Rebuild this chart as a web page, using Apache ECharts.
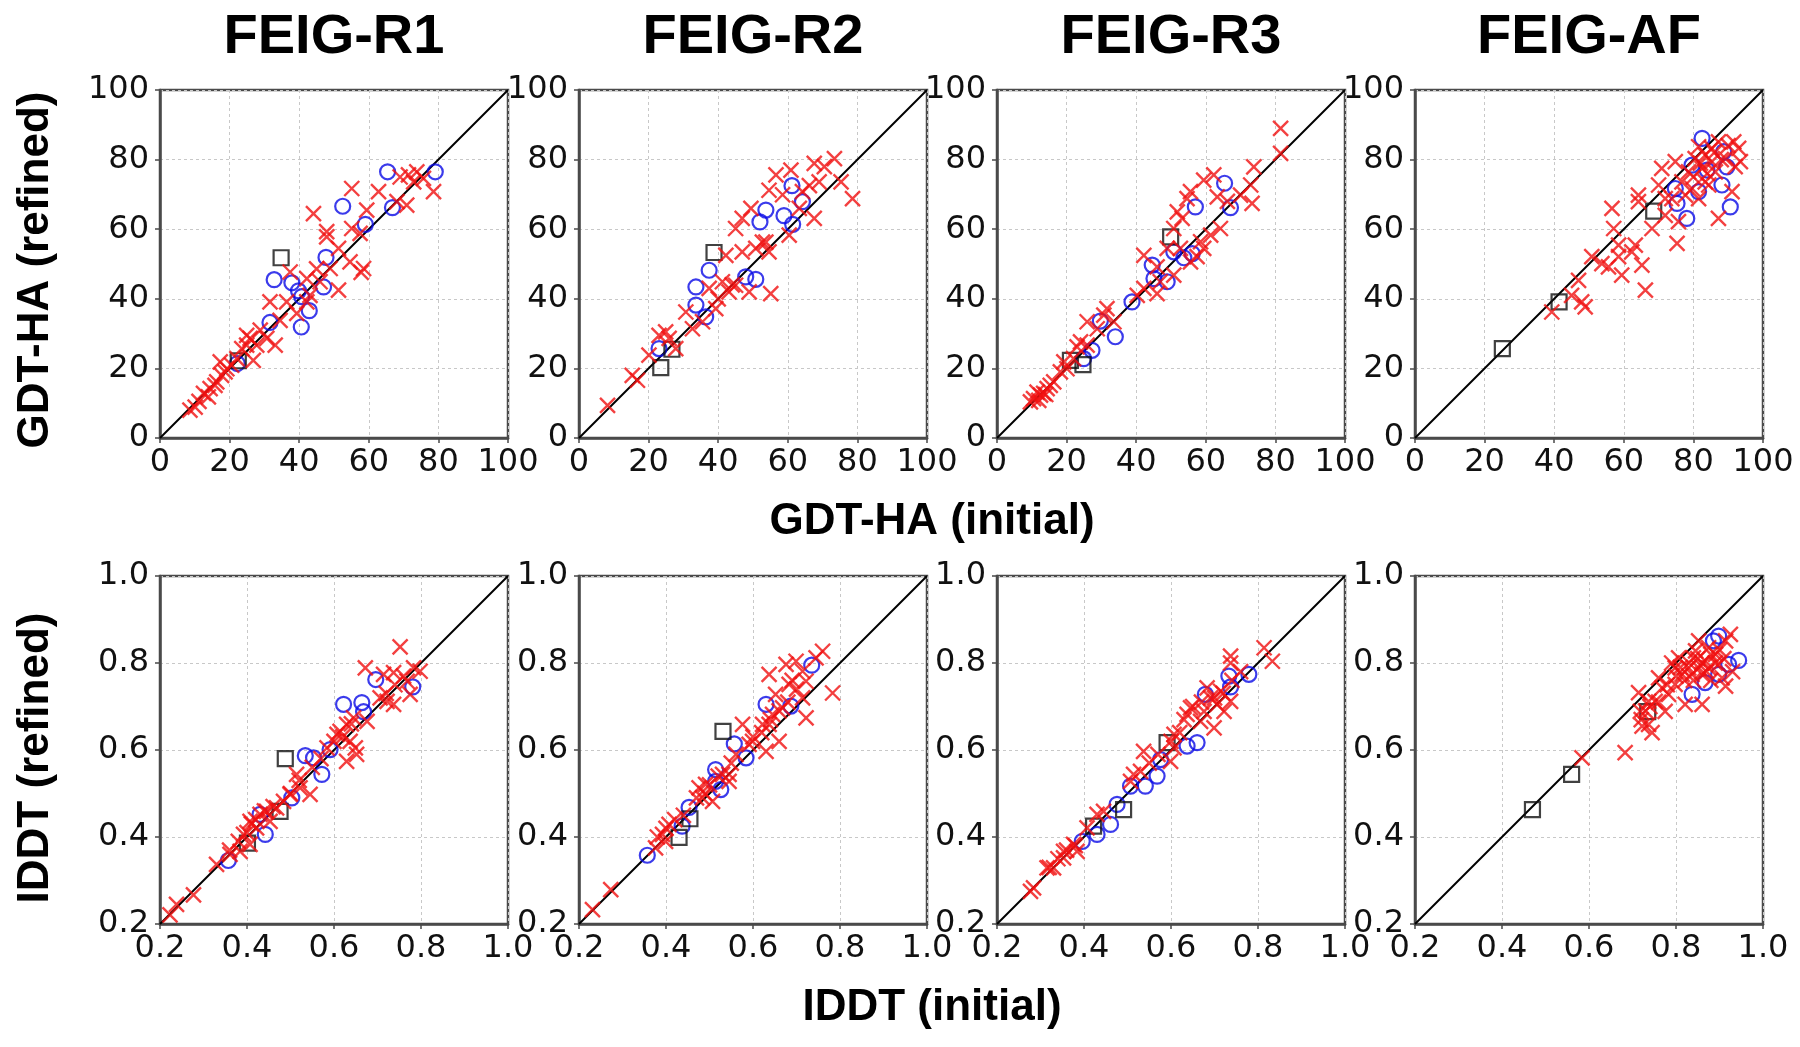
<!DOCTYPE html>
<html>
<head>
<meta charset="utf-8">
<script src="https://cdn.jsdelivr.net/npm/echarts@6/dist/echarts.min.js"></script>
<style>
  body { margin: 0; background: #fff; }
  #chart { width: 1800px; height: 1047px; }
</style>
</head>
<body>
<div id="chart"></div>
<script>
// panel titles and axis ticks
const panelTitles = ['FEIG-R1', 'FEIG-R2', 'FEIG-R3', 'FEIG-AF'];
const gdtTicks = [0, 20, 40, 60, 80, 100];
const lddtTicks = [0.2, 0.4, 0.6, 0.8, 1.0];

// GDT-HA (initial, refined)
const r1GdtCross = [[8.6,8],[10.1,8.9],[11.2,10.5],[12.5,12.8],[13.9,11.8],[14.4,14.2],[15.8,15.1],[16.3,16.1],[17.7,18],[18.7,19],[19.2,19.9],[20.6,20.9],[17.3,21.9],[22.1,22.8],[23.5,25.7],[24.9,26.7],[25.9,28.6],[24.9,29.5],[26.8,22.3],[27.8,26.7],[28.8,31],[30.7,28.6],[33.1,26.7],[34.5,33.8],[31.6,39.1],[36.4,39.1],[37.4,47.7],[39.3,35.8],[42.2,39.1],[43.1,41],[42.2,45.8],[46,44.9],[45,48.6],[48.9,48.7],[44.1,64.5],[47.9,59.3],[47.9,57.8],[51.3,54.5],[51.3,42.5],[54.6,50.6],[55.1,60.2],[57.5,58.8],[58.5,48.7],[57.8,47.6],[55.1,71.7],[59.4,65.5],[62.8,70.8],[68.1,67.9],[69,75],[70.9,66.9],[71.4,75.6],[72.9,73.6],[73.8,76.5],[75.7,74.6],[78.6,70.8]];
const r1GdtCircle = [[65.4,76.5],[79.1,76.5],[52.5,66.6],[66.8,66.2],[59,61.4],[47.7,51.9],[32.8,45.5],[37.9,44.6],[39.8,42.3],[47,43.4],[40.7,40.6],[42.9,36.6],[31.6,33.2],[40.6,31.9],[22.2,21.4]];
const r1GdtSquare = [[34.8,51.8],[22.5,22.2]];

const r2GdtCross = [[8.2,9.4],[15.3,18],[16.8,16.6],[20.1,23.8],[23,29.5],[24.9,30.5],[25.9,28.6],[27.8,25.7],[30.7,36.2],[32.6,31.4],[35.5,33.4],[39.3,37.2],[37.4,43],[40,40],[41.2,44.9],[43.1,42],[44,44],[45,43.9],[42.2,52.5],[45,60.2],[46.9,63.1],[46.9,53.5],[49.4,66],[48.9,42],[50.8,54.5],[52.7,56.3],[53.7,56.3],[54.6,53.5],[55.1,41.5],[54.6,71.2],[56.6,75.6],[60.9,77],[58.5,69.9],[60.4,58.3],[63.3,66],[64.2,70.8],[66.2,72.5],[67.6,78.9],[67.6,63.1],[69,73.6],[70.5,78],[73.4,80.3],[75.3,73.6],[78.6,68.8]];
const r2GdtCircle = [[61.2,72.5],[53.7,65.5],[52,62.1],[58.9,63.9],[61.4,61.4],[64.2,67.9],[37.4,48.2],[47.9,46.3],[50.8,45.6],[33.6,43.4],[33.6,38.2],[36.4,34.8],[23,25.7]];
const r2GdtSquare = [[38.8,53.3],[26.7,25.5],[23.5,20.2]];

const r3GdtCross = [[81.5,89],[81.5,81.8],[73.8,77.9],[72.9,72.7],[73.3,67.4],[70,69.8],[66.2,68],[62.3,75.6],[59.4,74.1],[63.3,69.3],[64.2,60.2],[61.4,58.3],[58.5,56.4],[59.4,54.5],[55.6,70.8],[54.6,68.8],[51.8,65],[53.2,63.1],[50.8,60.2],[55.6,50.6],[57.5,52.1],[52.7,54.5],[48.9,54.5],[42.2,52.5],[46,49.2],[46.9,44.9],[46,41.5],[50.8,46.8],[42.2,43],[40.3,41],[31.6,37.2],[33.6,33.4],[25.9,33.4],[30.7,35.3],[28.8,31.4],[24,27.6],[23,26.2],[25.9,26.7],[22,22.8],[20.1,19.9],[19.2,21.9],[18.2,19],[16.3,16.1],[15.3,15.1],[14.4,14.2],[13.4,12.8],[12.5,12.3],[11.5,13.2],[10.5,11.3],[9.6,10.4],[12,10.8],[14,12.5]];
const r3GdtCircle = [[65.4,73.2],[57,66.4],[67.1,66.2],[50.8,53.5],[53.7,51.8],[56.1,53],[44.6,49.7],[45.1,45.8],[48.9,44.9],[38.8,39.1],[29.7,33.6],[34,29.1],[27.3,25.2],[24.9,22.8]];
const r3GdtSquare = [[49.9,57.8],[21.1,22.3],[24.7,21.1]];

const afGdtCross = [[39.3,36.2],[45,41],[47,45.3],[47.9,39.1],[48.9,37.7],[50.8,52.1],[53.7,50.1],[55.6,49.2],[56.6,66],[57.1,60.2],[58.5,55.4],[58.5,52.1],[59.4,46.8],[62.3,53.5],[63.3,55.4],[65.2,49.7],[66.2,42.5],[64.2,69.8],[64.2,67.9],[68.1,60.2],[70.9,77.5],[70,72.7],[71.9,64],[71.9,68.8],[73.8,68.8],[74.8,79.4],[75.3,55.9],[75.7,62.2],[76.7,73.6],[77.7,69.8],[78.6,76.5],[79.6,71.7],[80,75],[80.5,80.3],[81.5,68.8],[81.5,83.7],[82,79],[82.5,77.5],[83.4,81.3],[83.4,73.6],[84,76],[84.4,72.7],[85.3,83.2],[85.3,79.4],[86.3,76.5],[86,82],[87.2,85.1],[87.2,63.1],[88,80],[89.2,80.3],[90,84],[91.1,70.8],[91.6,85.1],[92,78],[93,83.2],[93.5,79.4]];
const afGdtCircle = [[82.5,86.1],[88.7,82.3],[89.6,77.9],[88.2,72.7],[90.6,66.4],[75.3,67.4],[78.1,63.1],[83.9,77],[74.8,71.7],[81.5,70.8],[79.6,78.4]];
const afGdtSquare = [[25.1,25.7],[41.4,39.1],[68.6,65.2]];

// lDDT (initial, refined)
const r1LddtCross = [[0.752,0.837],[0.672,0.789],[0.714,0.774],[0.737,0.778],[0.768,0.758],[0.783,0.789],[0.798,0.781],[0.775,0.728],[0.706,0.72],[0.722,0.712],[0.737,0.705],[0.72,0.73],[0.74,0.75],[0.76,0.77],[0.676,0.666],[0.645,0.674],[0.629,0.659],[0.614,0.643],[0.637,0.62],[0.649,0.605],[0.629,0.574],[0.652,0.59],[0.607,0.636],[0.62,0.63],[0.64,0.66],[0.6,0.62],[0.584,0.605],[0.57,0.58],[0.55,0.56],[0.545,0.498],[0.522,0.513],[0.52,0.53],[0.5,0.5],[0.499,0.498],[0.514,0.544],[0.484,0.482],[0.468,0.467],[0.46,0.47],[0.44,0.46],[0.43,0.452],[0.42,0.44],[0.445,0.459],[0.453,0.436],[0.41,0.43],[0.407,0.436],[0.422,0.421],[0.4,0.41],[0.392,0.406],[0.38,0.39],[0.407,0.383],[0.384,0.367],[0.36,0.37],[0.361,0.36],[0.33,0.337],[0.277,0.267],[0.238,0.245],[0.223,0.221]];
const r1LddtCircle = [[0.696,0.762],[0.781,0.745],[0.622,0.705],[0.664,0.709],[0.668,0.688],[0.591,0.601],[0.534,0.587],[0.553,0.582],[0.572,0.544],[0.503,0.49],[0.442,0.406],[0.357,0.346],[0.43,0.452]];
const r1LddtSquare = [[0.488,0.58],[0.476,0.459],[0.401,0.386]];

const r2LddtCross = [[0.231,0.233],[0.273,0.279],[0.376,0.375],[0.38,0.4],[0.399,0.39],[0.4,0.42],[0.407,0.429],[0.392,0.406],[0.42,0.44],[0.44,0.45],[0.47,0.49],[0.476,0.513],[0.49,0.5],[0.491,0.521],[0.5,0.52],[0.507,0.482],[0.484,0.49],[0.52,0.54],[0.53,0.544],[0.545,0.528],[0.545,0.544],[0.55,0.57],[0.561,0.59],[0.576,0.659],[0.591,0.613],[0.599,0.62],[0.6,0.63],[0.62,0.64],[0.622,0.659],[0.63,0.597],[0.637,0.659],[0.64,0.67],[0.645,0.682],[0.66,0.62],[0.66,0.69],[0.668,0.697],[0.68,0.71],[0.7,0.74],[0.69,0.76],[0.637,0.774],[0.652,0.728],[0.676,0.797],[0.683,0.751],[0.699,0.804],[0.714,0.781],[0.714,0.72],[0.722,0.758],[0.722,0.674],[0.745,0.812],[0.76,0.827],[0.783,0.731]];
const r2LddtCircle = [[0.735,0.795],[0.63,0.705],[0.687,0.701],[0.557,0.614],[0.584,0.582],[0.514,0.555],[0.526,0.509],[0.514,0.528],[0.453,0.468],[0.437,0.425],[0.357,0.358]];
const r2LddtSquare = [[0.531,0.643],[0.455,0.442],[0.43,0.399]];

const r3LddtCross = [[0.814,0.835],[0.833,0.804],[0.737,0.816],[0.737,0.8],[0.76,0.78],[0.74,0.76],[0.683,0.743],[0.714,0.735],[0.72,0.73],[0.691,0.72],[0.7,0.72],[0.699,0.651],[0.722,0.689],[0.706,0.705],[0.737,0.712],[0.67,0.71],[0.65,0.7],[0.645,0.697],[0.637,0.682],[0.63,0.67],[0.668,0.666],[0.676,0.689],[0.62,0.64],[0.607,0.636],[0.6,0.62],[0.599,0.574],[0.607,0.605],[0.57,0.59],[0.55,0.57],[0.537,0.597],[0.53,0.551],[0.507,0.528],[0.514,0.544],[0.445,0.459],[0.43,0.452],[0.407,0.421],[0.384,0.367],[0.38,0.38],[0.376,0.383],[0.36,0.37],[0.353,0.367],[0.353,0.352],[0.34,0.35],[0.33,0.329],[0.32,0.33],[0.315,0.329],[0.284,0.283],[0.277,0.275]];
const r3LddtCircle = [[0.779,0.774],[0.733,0.77],[0.679,0.728],[0.737,0.745],[0.66,0.617],[0.637,0.609],[0.576,0.578],[0.568,0.54],[0.541,0.517],[0.507,0.517],[0.476,0.475],[0.461,0.429],[0.43,0.406],[0.396,0.39]];
const r3LddtSquare = [[0.591,0.617],[0.491,0.463],[0.422,0.425]];

const afLddtCross = [[0.584,0.582],[0.683,0.594],[0.714,0.732],[0.718,0.689],[0.72,0.67],[0.722,0.655],[0.73,0.69],[0.737,0.659],[0.737,0.712],[0.74,0.7],[0.745,0.64],[0.752,0.712],[0.76,0.71],[0.76,0.766],[0.768,0.743],[0.775,0.689],[0.78,0.75],[0.783,0.728],[0.79,0.8],[0.798,0.751],[0.798,0.789],[0.8,0.77],[0.806,0.812],[0.81,0.79],[0.814,0.774],[0.82,0.76],[0.821,0.705],[0.829,0.789],[0.83,0.8],[0.837,0.774],[0.84,0.812],[0.84,0.76],[0.845,0.828],[0.85,0.81],[0.852,0.789],[0.852,0.851],[0.86,0.705],[0.86,0.8],[0.86,0.774],[0.868,0.804],[0.87,0.78],[0.875,0.835],[0.875,0.789],[0.88,0.82],[0.88,0.76],[0.89,0.8],[0.891,0.82],[0.898,0.797],[0.9,0.83],[0.906,0.766],[0.91,0.81],[0.914,0.851],[0.914,0.747],[0.925,0.866],[0.93,0.78]];
const afLddtCircle = [[0.898,0.862],[0.886,0.851],[0.944,0.806],[0.921,0.797],[0.898,0.774],[0.867,0.755],[0.837,0.728]];
const afLddtSquare = [[0.47,0.463],[0.56,0.544],[0.735,0.688]];

const gdtPanels = [
  [r1GdtCross, r1GdtCircle, r1GdtSquare],
  [r2GdtCross, r2GdtCircle, r2GdtSquare],
  [r3GdtCross, r3GdtCircle, r3GdtSquare],
  [afGdtCross, afGdtCircle, afGdtSquare]
];
const lddtPanels = [
  [r1LddtCross, r1LddtCircle, r1LddtSquare],
  [r2LddtCross, r2LddtCircle, r2LddtSquare],
  [r3LddtCross, r3LddtCircle, r3LddtSquare],
  [afLddtCross, afLddtCircle, afLddtSquare]
];

const colLeft = [160, 579, 997, 1415];
const rowTop = [90, 576];
const boxSize = 348;
const tickFont = 'DejaVu Sans';
const labelFont = '"Liberation Sans", Arial, sans-serif';

const grids = [], xAxes = [], yAxes = [], series = [];

function addPanel(idx, row, col, ticks, data) {
  const lo = ticks[0], hi = ticks[ticks.length - 1], step = ticks[1] - ticks[0];
  const fmt = row === 0 ? (v => String(Math.round(v))) : (v => v.toFixed(1));
  grids.push({
    left: colLeft[col], top: rowTop[row], width: boxSize, height: boxSize,
    show: true, borderColor: '#4a4a4a', borderWidth: 2.5, backgroundColor: 'transparent'
  });
  const axisCommon = {
    type: 'value', min: lo, max: hi, interval: step, gridIndex: idx,
    axisLine: { show: true, onZero: false, lineStyle: { color: '#4a4a4a', width: 2.5 } },
    axisTick: { show: true, inside: false, length: 5, lineStyle: { color: '#4a4a4a', width: 1.5 } },
    splitLine: { show: true, lineStyle: { color: '#c8c8c8', width: 1, type: [3, 3] } },
    axisLabel: { color: '#111', fontFamily: tickFont, fontSize: 32, formatter: fmt, showMinLabel: true, showMaxLabel: true }
  };
  xAxes.push(Object.assign({}, axisCommon, { axisLabel: Object.assign({}, axisCommon.axisLabel, { margin: 9 }) }));
  yAxes.push(Object.assign({}, axisCommon, { axisLabel: Object.assign({}, axisCommon.axisLabel, { margin: 11 }) }));

  series.push({
    type: 'line', xAxisIndex: idx, yAxisIndex: idx, data: [[lo, lo], [hi, hi]],
    symbol: 'none', lineStyle: { color: '#000', width: 2 }, silent: true, z: 2
  });
  series.push({
    type: 'scatter', xAxisIndex: idx, yAxisIndex: idx, data: data[1],
    symbol: 'circle', symbolSize: 15,
    itemStyle: { color: 'rgba(0,0,0,0)', borderColor: '#0a0ae6', borderWidth: 2.2 }, z: 3
  });
  series.push({
    type: 'scatter', xAxisIndex: idx, yAxisIndex: idx, data: data[2],
    symbol: 'rect', symbolSize: 15,
    itemStyle: { color: 'rgba(0,0,0,0)', borderColor: '#111', borderWidth: 2.2 }, z: 4
  });
  series.push({
    type: 'scatter', xAxisIndex: idx, yAxisIndex: idx, data: data[0],
    symbol: 'path://M0,0L10,10M10,0L0,10', symbolSize: 15,
    itemStyle: { color: 'rgba(0,0,0,0)', borderColor: '#f01010', borderWidth: 2.4 }, z: 5
  });
}

for (let c = 0; c < 4; c++) addPanel(c, 0, c, gdtTicks, gdtPanels[c]);
for (let c = 0; c < 4; c++) addPanel(4 + c, 1, c, lddtTicks, lddtPanels[c]);

function label(text, x, y, size, rot) {
  return {
    type: 'text', x: x, y: y, rotation: rot || 0, silent: true,
    style: {
      text: text, font: 'bold ' + size + 'px ' + labelFont, fill: '#000',
      align: 'center', verticalAlign: 'middle', textAlign: 'center', textVerticalAlign: 'middle'
    }
  };
}

const graphics = [];
panelTitles.forEach((t, c) => graphics.push(label(t, colLeft[c] + boxSize / 2, 38, 56)));
graphics.push(label('GDT-HA (initial)', 932, 522, 44));
graphics.push(label('IDDT (initial)', 932, 1008, 44));
graphics.push(label('GDT-HA (refined)', 36, 270, 44, Math.PI / 2));
graphics.push(label('IDDT (refined)', 36, 758, 44, Math.PI / 2));

const chart = echarts.init(document.getElementById('chart'));
chart.setOption({
  animation: false,
  backgroundColor: '#fff',
  grid: grids,
  xAxis: xAxes,
  yAxis: yAxes,
  series: series,
  graphic: graphics
});
</script>
</body>
</html>
